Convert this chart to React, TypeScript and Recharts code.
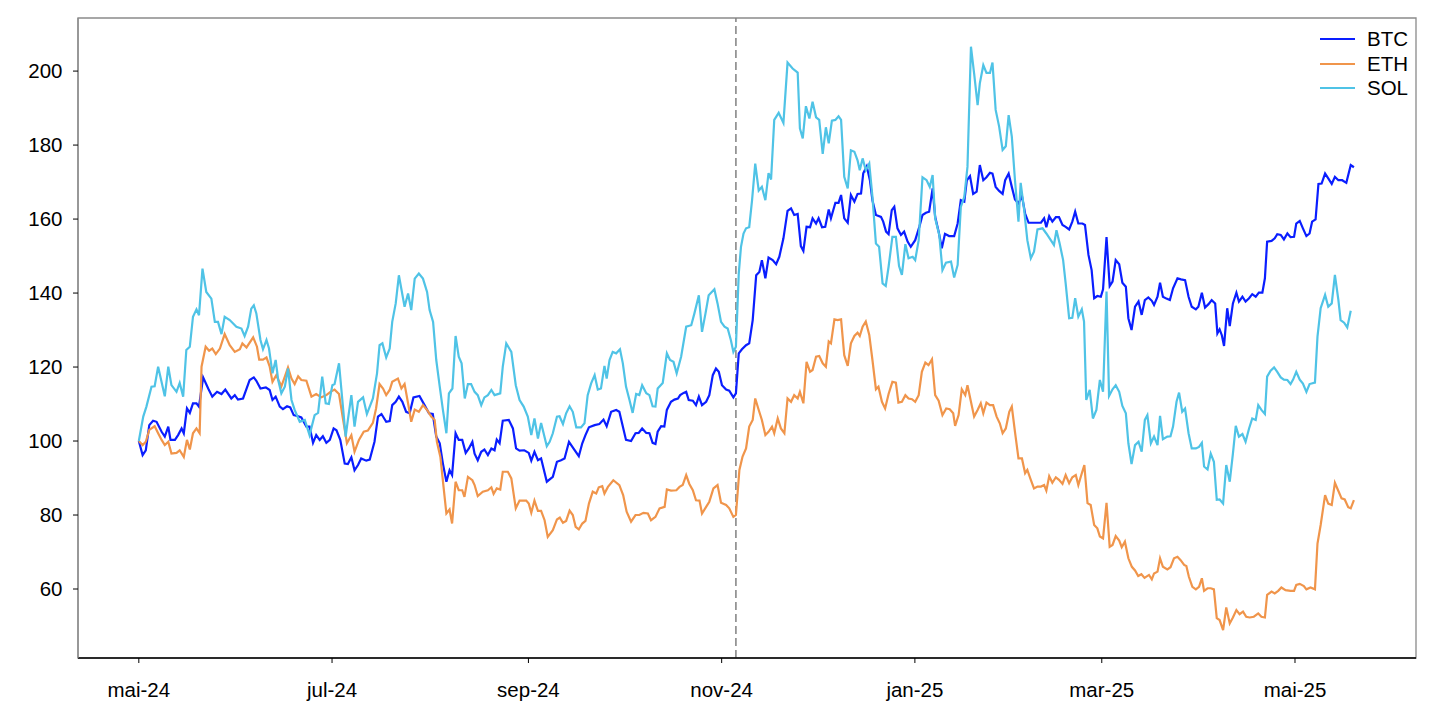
import React from "react";
import {
  LineChart,
  Line,
  XAxis,
  YAxis,
  ReferenceLine,
  ReferenceArea,
  Legend,
} from "recharts";

// Days counted from 1 May 2024; values indexed to 100 at the start.
const TICK_DAYS = [0, 61, 123, 184, 245, 304, 365];
const TICK_LABELS = ["mai-24", "jul-24", "sep-24", "nov-24", "jan-25", "mar-25", "mai-25"];
const Y_TICKS = [60, 80, 100, 120, 140, 160, 180, 200];
const EVENT_DAY = 188.5;

const BTC: [number, number][] = [
  [0, 100], [1.2, 96.2], [2.2, 97.5], [3.3, 104.3], [4.5, 105.5], [5.6, 105.2], [7.2, 102.5], [8.2, 101.2],
  [9.3, 103.9], [10, 100.3], [11.4, 100.3], [12.4, 101.6], [13.5, 103.4], [14.2, 102.1], [15.2, 108.8],
  [16.1, 107.6], [17.1, 110.2], [18.2, 110.2], [19, 109.3], [20.3, 117.2], [21.9, 114.2], [23.2, 112],
  [24.7, 113.3], [26.1, 112.7], [27.3, 113.9], [29.2, 111.5], [30.3, 112.4], [31.3, 111.2], [32.9, 111.5],
  [35, 116.5], [36.3, 117.2], [37.1, 116.3], [38.4, 114.2], [40.1, 114.5], [41.3, 113.8], [42.2, 111.1],
  [43.2, 112], [44.5, 109.3], [45.5, 108.6], [46.8, 109.4], [47.8, 109.1], [48.9, 107], [50.3, 106.7],
  [51.3, 106.4], [52.9, 103.9], [53.9, 103.9], [55, 99.5], [56, 101.6], [57.1, 100.3], [58.1, 101.3],
  [59.2, 99.5], [60.3, 100.3], [61.5, 103.4], [62.4, 102.9], [63.6, 100.3], [65, 93.9], [66, 93.8],
  [67.1, 95.6], [68.1, 92.1], [69.2, 93.5], [70.2, 95.3], [71.8, 94.7], [72.9, 95], [74.4, 99.8],
  [75.5, 106.6], [76.6, 107.3], [78.1, 105.2], [79.2, 105.4], [80, 109.7], [81.1, 110.6], [82.1, 112],
  [83.2, 110.6], [84.4, 107.9], [85.5, 107.5], [86.7, 111.8], [88.6, 112.2], [90.2, 109.7], [91.6, 107.5],
  [92.8, 107.3], [93.9, 101.2], [95, 99.4], [96, 93.9], [97.1, 89], [98.1, 92.1], [98.9, 90.8], [100, 102.1],
  [101, 100.3], [102.1, 100.3], [103.2, 96.8], [104.2, 98], [105.3, 99.8], [106, 96.6], [107, 94.8],
  [108.1, 97.1], [109.1, 97.7], [110.2, 96.2], [111.3, 98], [112.3, 97.5], [113, 100.4], [113.9, 99.4],
  [114.9, 105.5], [116.8, 105.7], [118.1, 103.4], [119.1, 98], [120.2, 97.4], [121.7, 97.5], [123.1, 96.8],
  [123.9, 94.7], [124.9, 97.1], [126, 94.8], [127, 95.3], [128.8, 89], [130.7, 90.3], [132, 94.4],
  [133.3, 94.8], [134.4, 95.3], [135.8, 99.8], [137.2, 98], [138.9, 95.9], [140, 99.4], [141, 101.6],
  [142.1, 103.7], [143.9, 104.3], [145.4, 104.6], [146.7, 105.8], [147.7, 104], [149.1, 107.9],
  [150.7, 108.4], [151.7, 107.9], [152.8, 103.9], [153.8, 100.3], [155.4, 100], [156.8, 102.1],
  [157.8, 102.2], [158.9, 103.4], [160.2, 102.2], [161.2, 102.1], [162.2, 99.5], [163.1, 99.2],
  [163.8, 102.5], [164.9, 104], [165.9, 103.9], [166.7, 108.4], [168, 110.6], [169.1, 111.2],
  [170.2, 111.5], [170.9, 112.4], [172, 113], [172.8, 113.3], [173.6, 111.1], [174.9, 110.9],
  [175.9, 109.7], [176.8, 112], [177.8, 109.7], [179.1, 110.6], [180.1, 112.4], [181.2, 117.8],
  [182.2, 119.6], [183.1, 118.7], [184.1, 115.1], [185.4, 113.9], [186.4, 113.6], [187.7, 111.8],
  [188.5, 112.9], [189.4, 123.7], [190.4, 124.8], [191.7, 125.9], [192.7, 126.4], [193.8, 132.7],
  [194.9, 144.8], [195.9, 145.7], [196.7, 148.9], [197.8, 144], [198.8, 149.6], [200.1, 148.9],
  [201.2, 147.8], [202.2, 149.8], [203.5, 154.8], [204.8, 162.2], [205.9, 162.9], [206.9, 161.1],
  [208, 161.4], [209, 152.7], [209.8, 151.4], [210.8, 157.9], [211.9, 157.8], [212.7, 160.2],
  [213.8, 158.8], [214.6, 160.2], [215.7, 157.8], [216.7, 157.9], [217.8, 162.6], [218.5, 160.2],
  [219.9, 164.4], [220.9, 164.4], [221.7, 166.5], [222.7, 160.2], [223.8, 159], [224.8, 166.5],
  [225.9, 164.7], [226.9, 166.8], [228, 166.9], [228.7, 172.4], [229.8, 174.3], [230.8, 170.5],
  [231.6, 165.1], [232.7, 161.1], [234.3, 160.6], [235, 159.3], [235.9, 156.6], [236.7, 155.9],
  [237.7, 162.4], [238.5, 163.3], [239.5, 157.5], [240.6, 155.7], [241.6, 156.6], [242.7, 153.9],
  [243.7, 152.5], [245.1, 154.3], [246.4, 157.9], [247.4, 161.1], [248.5, 161.7], [249.5, 162],
  [250.6, 168.3], [251.4, 160.6], [252.5, 156.6], [253.5, 152.1], [254.5, 156], [255.8, 155.4],
  [257.4, 155.4], [258.5, 158.8], [259.5, 165.1], [260.6, 164.7], [261.4, 170.5], [262.4, 171.6],
  [263.4, 166.8], [264.5, 167.4], [265.5, 174.6], [266.6, 170.5], [267.6, 171.3], [268.7, 172.5],
  [269.5, 172.3], [270.5, 168.7], [271.6, 167.6], [272.7, 166.8], [273.5, 170.5], [274.6, 172.3],
  [275.6, 168.7], [276.6, 165.3], [277.7, 164.2], [278.8, 166.2], [279.8, 161.5], [280.9, 159],
  [282.1, 159], [283.7, 159], [284.8, 159], [285.8, 160.2], [286.5, 157.8], [287.4, 160.8],
  [288.4, 159.3], [289.5, 160.5], [290.5, 160.5], [291.6, 158.4], [292.6, 157.9], [293.7, 157.2],
  [294.7, 159.3], [295.6, 162], [296.6, 158.8], [297.9, 158.8], [298.7, 158.4], [299.8, 150.3],
  [300.8, 146.2], [301.6, 138.6], [302.6, 139.2], [303.7, 139], [304.4, 141], [305.5, 155.1],
  [306.5, 141.9], [307.4, 143.1], [308.4, 148.9], [309.5, 147.8], [310.5, 142.8], [311.6, 141.7],
  [312.4, 133.2], [313.4, 130], [314.5, 136.3], [315.6, 137.7], [316.6, 134.1], [317.6, 138.1],
  [318.7, 138.8], [319.8, 137.9], [320.5, 136.8], [321.6, 139], [322.4, 142.8], [323.3, 139],
  [324.4, 138.5], [325.5, 138.1], [326.5, 141.3], [327.9, 144], [329, 143.7], [330.3, 143.5],
  [331.4, 139], [332.4, 136.3], [333.7, 135.6], [334.5, 136.3], [335.6, 140.1], [336.6, 136.1],
  [337.7, 137], [338.7, 138.1], [339.8, 137.2], [340.5, 129.1], [341.2, 130.2], [341.9, 128.6],
  [342.6, 125.7], [343.6, 135.9], [344.4, 131.1], [345.4, 137.2], [346.5, 140.1], [347.3, 137.7],
  [348.4, 139], [349.4, 137.7], [350.5, 138.6], [351.5, 139.7], [352.6, 139], [353.6, 140.1],
  [354.7, 140.1], [355.5, 144], [356.2, 153.9], [357.6, 154.1], [358.6, 154.8], [359.4, 155.9],
  [360.5, 155.7], [361.5, 154.5], [362.6, 156.1], [363.6, 155.1], [364.7, 155.2], [365.4, 158.8],
  [366.5, 159.5], [367.5, 157.5], [368.6, 155.4], [369.6, 156.1], [370.4, 159.3], [371.5, 159.9],
  [372.4, 169.5], [373.4, 169.6], [374.5, 172.3], [375.5, 171], [376.6, 169.5], [377.6, 171.4],
  [378.7, 170.5], [379.9, 170.5], [381.2, 169.8], [382.6, 174.6], [383.6, 174],
];

const ETH: [number, number][] = [
  [0, 100], [1.2, 98.9], [2.2, 99.8], [3.3, 103], [5, 104], [6.1, 102.1], [7.2, 100.3], [8.2, 98.9],
  [9.3, 99.8], [10.3, 96.6], [11.9, 96.8], [12.9, 97.5], [14.2, 95.7], [15.2, 100.3], [16.1, 97.7],
  [17.1, 102.1], [18.2, 103.4], [19.2, 102.1], [19.8, 120.1], [21.1, 125.5], [22.2, 124.4], [23.2, 125],
  [24.3, 123.5], [25.6, 125], [27.1, 128.9], [28.7, 125.9], [30.3, 124.1], [31.9, 124.8], [32.7, 126.4],
  [34, 125.3], [36.1, 128], [37.3, 125.5], [38, 122], [39.2, 122], [40.3, 122.6], [41.3, 120.2],
  [42.2, 116], [43.4, 117.8], [45, 114.8], [46.1, 117.4], [47.1, 119.9], [48.2, 116.9], [49.2, 115.4],
  [50.3, 117.5], [51.3, 116.5], [52.9, 116.3], [54.5, 112], [56, 112.7], [57.6, 111.8], [59.2, 112.4],
  [60.5, 113.3], [61.8, 113.9], [63.2, 112.7], [64.5, 105.7], [65.7, 99.4], [67.1, 101.6], [68.1, 97.1],
  [69.5, 100.3], [71, 102.5], [72.3, 102.8], [73.9, 104.9], [74.9, 108.8], [76, 115.4], [77.1, 114.2],
  [78.1, 112.4], [79.2, 113.8], [80, 116], [81.8, 116.9], [82.9, 114.2], [83.9, 115.4], [85, 110.2],
  [86, 105.2], [87.1, 108.5], [88.4, 107.9], [89.7, 109.7], [91, 108.4], [92.3, 106.6], [93.4, 105.7],
  [94.1, 99.8], [95.2, 95.7], [96.2, 87.6], [97.1, 80.4], [98.1, 81.5], [98.9, 77.7], [100, 89],
  [101, 86.7], [102.1, 86.7], [102.8, 84.9], [103.9, 90.3], [105.3, 89.4], [106, 88.1], [107, 85.1],
  [108.6, 86.3], [110.2, 86.7], [111.3, 87.5], [112, 85.7], [113, 87.2], [114.1, 86.9], [114.9, 91.7],
  [116.5, 91.7], [117.6, 89.9], [119, 81.8], [120.2, 83.9], [122.3, 83.9], [123.1, 83.1], [123.9, 80.6],
  [124.9, 83.9], [126, 81.1], [127, 81.1], [128.1, 78.6], [129.1, 74.1], [130.7, 75.9], [132, 78.8],
  [132.9, 79.3], [133.9, 77.9], [134.9, 78.4], [136, 81.2], [137, 80], [137.9, 76.8], [138.9, 76.1],
  [140, 77.7], [141, 78.4], [142.1, 83.1], [143.3, 86.3], [144.4, 85.8], [145.2, 87.5], [146.3, 87.8],
  [147, 85.8], [148.1, 87.6], [149.8, 89.4], [151.7, 88.1], [152.9, 85.4], [154, 80.9], [155.4, 78.2],
  [156.8, 80], [158, 80], [159.3, 80.6], [160.7, 80.4], [161.7, 78.6], [163.1, 79.5], [164.4, 81.8],
  [166, 82.2], [166.7, 86.9], [168, 86.6], [169.7, 86.7], [170.7, 87.6], [171.7, 88.1], [172.8, 90.8],
  [173.8, 88.4], [174.9, 86.7], [175.9, 84], [177, 83.9], [177.8, 80.4], [179.1, 82.2], [180.1, 83.6],
  [181.4, 87.2], [182.7, 88.1], [183.8, 83.3], [185.4, 82.7], [186.4, 81.8], [187.7, 79.5], [188.5, 80],
  [189.6, 92.2], [190.6, 95.8], [191.7, 98], [192.7, 103.9], [193.8, 105.7], [194.6, 111.5],
  [195.7, 108.4], [196.7, 105.7], [197.8, 101.6], [198.8, 102.5], [199.9, 103.9], [200.6, 102.1],
  [201.7, 106.1], [202.7, 103.4], [203.8, 102.1], [204.8, 111.5], [205.9, 110.6], [206.9, 112.4],
  [208, 111.5], [208.7, 113.3], [209.8, 110.2], [210.8, 121.4], [211.9, 118.7], [212.7, 119.2],
  [213.8, 122.8], [214.8, 123], [215.9, 121], [216.9, 120.1], [217.8, 126.9], [218.5, 126.4],
  [219.6, 132.9], [220.6, 132.7], [221.7, 132.9], [222.7, 123.2], [223.8, 120.3], [224.8, 126.4],
  [225.9, 128.4], [226.9, 129.3], [227.6, 128.4], [228.5, 130.9], [229.5, 132.3], [230.6, 128.7],
  [231.6, 121.9], [232.7, 114], [233.5, 114.7], [234.6, 110.6], [235.6, 108.8], [236.7, 112.7],
  [237.9, 116], [239, 115.8], [239.8, 110.4], [240.9, 110.6], [242, 112.4], [243, 111.5], [244.1, 111.3],
  [245.1, 110.6], [246.2, 112.4], [247.2, 118.7], [248.3, 121.2], [249.3, 120.5], [250.4, 122.1],
  [251.4, 112.4], [252.5, 110.9], [253.7, 107], [254.9, 108.8], [256, 108.6], [257.1, 107.5],
  [257.7, 104.1], [258.8, 107], [259.8, 114], [260.9, 112.4], [261.6, 115.1], [262.7, 110.6],
  [263.7, 106.6], [264.8, 108.4], [265.8, 110.2], [266.6, 107.5], [267.6, 110.4], [268.7, 109.7],
  [269.7, 109.7], [270.8, 106.6], [271.8, 104.8], [272.7, 102.1], [273.7, 103.4], [274.8, 107.9],
  [275.6, 109.3], [276.6, 102.5], [277.7, 95.3], [278.8, 95.3], [279.8, 91.3], [280.5, 92.2],
  [281.6, 89.5], [282.6, 87.2], [283.7, 87.7], [284.8, 87.7], [285.8, 88.1], [286.5, 86.6],
  [287.4, 90.5], [288.4, 88.7], [289.5, 90.2], [290.5, 89.5], [291.6, 88.4], [292.6, 90.8],
  [293.7, 88.6], [294.7, 90.2], [295.8, 90.8], [296.6, 88.1], [297.7, 91.3], [298.5, 93.5],
  [299.5, 83.2], [300.5, 82.7], [301.6, 77.3], [302.6, 76.4], [303.4, 74.2], [304.4, 73.7],
  [305.5, 83.3], [306.5, 71.4], [307.4, 71.9], [308.4, 74.3], [309.5, 73.1], [310.3, 71.3],
  [311.3, 72.8], [312.4, 68.3], [313.5, 66], [314.5, 65], [315.5, 63.5], [316.5, 64], [317.5, 63],
  [318.9, 63.8], [319.8, 62.6], [320.5, 64.2], [321.6, 64.7], [322.4, 68.3], [323.3, 66], [324.7, 65.3],
  [325.7, 65.9], [326.8, 68.3], [327.9, 68.7], [328.9, 67.8], [330, 66.5], [330.7, 66.2], [331.5, 63.3],
  [332.6, 60.6], [333.7, 59.9], [334.7, 60.6], [335.6, 62.9], [336.3, 59.5], [337.4, 60.2],
  [338.4, 60.2], [339.4, 59.9], [340.3, 52.1], [341.2, 51.6], [342.3, 48.9], [343.3, 55], [344.4, 50.7],
  [345.4, 52.3], [346.5, 54.3], [347.5, 53.2], [348.6, 53.9], [349.6, 52.5], [350.7, 52.3], [352, 52.5],
  [353.4, 53.4], [354.4, 52.5], [355.5, 52.3], [356.2, 58.4], [357.6, 59.3], [358.6, 58.8],
  [359.7, 59.5], [360.7, 60.4], [362, 59.7], [363.6, 59.5], [364.7, 59.5], [365.4, 61.1], [366.5, 61.4],
  [367.8, 60.8], [368.6, 59.9], [369.9, 60.4], [371.3, 59.9], [372.1, 72.3], [373.1, 77.3],
  [374.5, 85.4], [375.5, 83.1], [376.6, 82.7], [377.6, 88.7], [378.7, 86.5], [379.7, 84.5],
  [380.7, 84.2], [381.8, 82.1], [382.6, 81.8], [383.6, 84],
];

const SOL: [number, number][] = [
  [0, 100], [1.4, 106.6], [2.4, 109.3], [4, 114.7], [5, 114.8], [6.1, 120.1], [8.2, 112.1], [9.3, 120.1],
  [10.3, 115.1], [11.9, 113.3], [12.9, 115.7], [14, 112], [15, 124.6], [16.1, 125.5], [17.1, 133.6],
  [18.2, 135.6], [19, 134], [20.1, 146.6], [21.3, 140.3], [22.9, 138.5], [24, 132.2], [25, 132.2],
  [26.1, 128.9], [27.1, 133.6], [28.7, 132.7], [30.8, 130.9], [32.4, 130.4], [33.4, 128.4], [34.5, 130.9],
  [35.5, 135.8], [36.3, 136.7], [37.1, 134.5], [38.4, 127.3], [39.2, 124.8], [40.3, 127.3], [41.1, 125],
  [42.2, 118.3], [43.2, 121.9], [44, 116.5], [45, 112.9], [46.1, 114.7], [47.1, 119.6], [48.2, 111.1],
  [49.2, 108.4], [50.8, 105.2], [52.4, 105.7], [53.9, 101.6], [55.5, 107], [56.6, 107.6], [57.9, 117.4],
  [59, 110.2], [60, 110], [61.1, 115.1], [61.8, 115.4], [63.2, 121], [65.3, 101.2], [66, 105.7],
  [67.1, 112.4], [68.1, 103.9], [69.2, 110.6], [70.8, 111.8], [72, 107.3], [73.9, 111.5], [75.2, 118.3],
  [76, 125.9], [76.9, 126.4], [78.1, 122.6], [79.2, 125], [80, 132.2], [81.1, 137.2], [82.1, 144.8],
  [83.9, 136.3], [85, 139.9], [86, 135.4], [87.1, 143.9], [88.4, 145.3], [89.7, 143.9], [91, 140.3],
  [91.8, 135.4], [92.9, 132.2], [93.9, 121.9], [95, 114.7], [96, 108.4], [97.1, 102.1], [97.9, 112.9],
  [99, 114.2], [100, 128.4], [101, 122.8], [101.9, 121], [102.9, 111.5], [103.9, 115.4], [104.9, 115.4],
  [106, 113.3], [107, 112.4], [108.1, 109.7], [109.1, 111.8], [110.2, 112.4], [111.3, 113.8],
  [112.3, 112.4], [114.1, 112.9], [114.9, 120.1], [116, 126.4], [117.6, 124.1], [119, 115.1],
  [120.2, 111.1], [121.5, 109.3], [122.8, 106.6], [123.9, 101.6], [124.9, 106.1], [126, 100.7],
  [127, 104.9], [128.8, 98.6], [129.7, 99.8], [130.7, 102.1], [132, 106.6], [132.8, 106.7],
  [133.9, 104.6], [134.9, 107.5], [136, 109.4], [137, 107.9], [138.1, 103.7], [139.6, 103.7],
  [140.7, 104.8], [141.7, 112.4], [142.8, 115.6], [143.9, 117.8], [144.9, 113.9], [145.9, 114.2],
  [147, 120.3], [147.7, 116.9], [148.6, 121.9], [149.6, 124.1], [150.7, 123.7], [151.9, 124.8],
  [152.8, 121], [153.8, 114.7], [154.9, 111.1], [155.9, 107.6], [157, 112.7], [158, 112.4],
  [158.9, 115.1], [160.2, 112.9], [161.2, 112.4], [162.2, 109.4], [163.1, 109.3], [163.8, 114.2],
  [165.4, 115.7], [166.7, 123.7], [167.7, 121.9], [168.8, 121.4], [169.8, 118.3], [171.2, 122.8],
  [172.8, 130.9], [174.4, 131.3], [175.4, 134.5], [176.8, 139.4], [177.8, 129.5], [178.9, 134.5],
  [179.9, 139.4], [181.7, 141], [182.7, 137.2], [183.8, 132.2], [184.9, 130.9], [185.9, 130.4],
  [186.9, 127.3], [187.7, 124.1], [188.5, 125.5], [189.4, 145.3], [190.1, 152.5], [190.9, 156.1],
  [191.7, 157.5], [192.7, 157.8], [193.6, 165.1], [194.6, 175], [195.7, 167.7], [196.7, 168.7],
  [197.8, 165.1], [198.8, 172.4], [199.6, 170.7], [200.6, 186.8], [202, 188.7], [203.5, 186],
  [204.8, 202.3], [206.4, 200.7], [208, 199.6], [208.7, 184.5], [209.6, 181.8], [210.6, 190.5],
  [211.7, 187.2], [212.7, 191.7], [213.8, 187.5], [214.8, 186.8], [215.9, 177.6], [216.9, 184.8],
  [217.8, 180.5], [218.8, 186.6], [219.9, 186.8], [220.9, 187.8], [221.7, 186.8], [222.7, 171.4],
  [223.8, 168.3], [224.8, 178.6], [225.9, 178.2], [226.9, 175.9], [227.6, 173.2], [228.5, 176.4],
  [229.5, 173.2], [230.6, 175], [231.6, 166], [232.7, 153.4], [233.7, 152.5], [234.8, 142.6],
  [235.8, 141.9], [236.7, 147.1], [237.9, 155.2], [239, 155.2], [240, 147.3], [240.9, 144.9],
  [242, 153.2], [243, 149.4], [244.3, 149.8], [245.1, 148.9], [246.2, 154.3], [247.4, 171.3],
  [248.7, 170.5], [249.7, 168.7], [250.6, 171.9], [251.4, 160.2], [252.7, 155.7], [253.7, 146.2],
  [254.8, 148.2], [256.4, 148.5], [257.4, 144.2], [258.5, 147.6], [259.5, 163.3], [260.6, 166],
  [261.6, 174.1], [262.7, 206.6], [263.7, 199.4], [264.8, 190.8], [265.5, 196.7], [266.6, 201.6],
  [267.6, 199.5], [268.7, 199.5], [269.5, 202.3], [270.5, 189.5], [271.6, 185], [272.7, 178.7],
  [273.7, 179.7], [274.6, 188.1], [275.6, 182.3], [276.6, 170.5], [277.7, 159.3], [278.4, 169.8],
  [279.5, 162.4], [280.5, 154.3], [281.6, 149.4], [282.6, 151.2], [283.7, 157.2], [285.3, 157.5],
  [286.5, 156.1], [287.9, 154.3], [288.9, 153], [289.7, 157], [290.7, 153.4], [291.8, 148.9],
  [292.6, 142.6], [293.7, 133.2], [294.7, 133.3], [295.6, 138.6], [296.6, 133.6], [297.7, 135.6],
  [298.4, 132.3], [299.1, 111.1], [300.2, 113.8], [301.2, 106.1], [302.3, 108.4], [303.4, 116.5],
  [304.4, 113.3], [305.5, 140.4], [306.3, 112.2], [307.4, 114], [308.4, 115.1], [309.5, 113.3],
  [310.5, 109.5], [311.6, 107.5], [312.4, 99.4], [313.4, 93.8], [314.5, 98.9], [315.6, 99.8],
  [316.6, 97.1], [317.6, 105.7], [318.4, 107], [319.5, 99.4], [320.5, 101.2], [321.6, 98.9],
  [322.4, 106.8], [323.3, 100.5], [324.7, 101.2], [325.7, 101.3], [326.5, 103.9], [327.6, 110.6],
  [328.4, 113.1], [329.4, 107.9], [330.3, 108.8], [331.4, 102.1], [332.4, 98], [333.7, 98], [334.7, 98.4],
  [335.6, 99.5], [336.3, 93.1], [337.4, 92.3], [338.4, 96.6], [339.4, 94.4], [340.3, 84.1], [341.2, 84.2],
  [342.3, 83.1], [343.3, 93.5], [344.4, 89], [345.4, 96.6], [346.3, 104.1], [347.3, 101.2], [348.4, 101.9],
  [349.4, 99.8], [350.5, 103.4], [351.5, 106.1], [352.6, 105.7], [353.4, 109.7], [354.4, 108.4],
  [355.5, 107.3], [356.2, 117.4], [357.3, 119], [358.4, 119.9], [359.4, 118.7], [360.5, 117.2],
  [361.5, 116.6], [362.6, 116.5], [363.6, 115.4], [364.4, 116.6], [365.4, 118.7], [366.5, 116.6],
  [367.5, 115.5], [368.6, 113.3], [369.6, 115.4], [371.3, 115.8], [372.1, 128.2], [373.1, 135.9],
  [374.5, 139.5], [375.5, 136.3], [376.6, 137.2], [377.6, 144.9], [378.7, 138.1], [379.4, 132.7],
  [380.5, 132], [381.5, 130.7], [382.6, 135.2],
];

const SERIES = [
  { name: "BTC", color: "#0A1EFF", points: BTC },
  { name: "ETH", color: "#F0954B", points: ETH },
  { name: "SOL", color: "#4FC3E6", points: SOL },
];

const X_DOMAIN: [number, number] = [-19.2, 403.2];
const Y_DOMAIN: [number, number] = [41.35, 214.35];

const FONT = "'Liberation Sans', Arial, sans-serif";
const FONT_SIZE = 20.5;

const LegendBox = () => (
  <div style={{ fontFamily: FONT, fontSize: FONT_SIZE, color: "#000" }}>
    {SERIES.map((s) => (
      <div key={s.name} style={{ display: "flex", alignItems: "center", height: 24.5 }}>
        <svg width={35} height={4} style={{ display: "block" }}>
          <line x1={0} y1={2} x2={35} y2={2} stroke={s.color} strokeWidth={2.2} />
        </svg>
        <span style={{ marginLeft: 12, lineHeight: "20px" }}>{s.name}</span>
      </div>
    ))}
  </div>
);

export default function App() {
  return (
    <div style={{ position: "fixed", left: 0, top: 0, width: 1445, height: 710, background: "#fff", fontFamily: FONT }}>
      <LineChart width={1445} height={710} margin={{ top: 18, right: 29, bottom: 22, left: 28 }}>
        <ReferenceArea
          x1={X_DOMAIN[0]}
          x2={X_DOMAIN[1]}
          y1={Y_DOMAIN[0]}
          y2={Y_DOMAIN[1]}
          fill="none"
          stroke="#8a8a8a"
          strokeWidth={1.3}
          fillOpacity={0}
        />
        <XAxis
          dataKey="d"
          type="number"
          domain={X_DOMAIN}
          allowDataOverflow
          ticks={TICK_DAYS}
          tickFormatter={(v: number) => TICK_LABELS[TICK_DAYS.indexOf(v)] ?? ""}
          height={30}
          tickSize={5}
          tickMargin={19}
          axisLine={{ stroke: "#000", strokeWidth: 1.3 }}
          tickLine={{ stroke: "#000", strokeWidth: 1 }}
          tick={{ fill: "#000", fontSize: FONT_SIZE, fontFamily: FONT }}
          interval={0}
        />
        <YAxis
          type="number"
          domain={Y_DOMAIN}
          allowDataOverflow
          ticks={Y_TICKS}
          width={50}
          tickSize={5}
          tickMargin={10.5}
          axisLine={{ stroke: "#8a8a8a", strokeWidth: 1.3 }}
          tickLine={{ stroke: "#000", strokeWidth: 1 }}
          tick={{ fill: "#000", fontSize: FONT_SIZE, fontFamily: FONT }}
          interval={0}
        />
        <ReferenceLine x={EVENT_DAY} stroke="#808080" strokeWidth={1.5} strokeDasharray="8 4" />
        {SERIES.map((s) => (
          <Line
            key={s.name}
            name={s.name}
            data={s.points.map(([d, v]) => ({ d, v }))}
            dataKey="v"
            type="linear"
            stroke={s.color}
            strokeWidth={2.2}
            dot={false}
            activeDot={false}
            isAnimationActive={false}
          />
        ))}
        <Legend
          layout="horizontal"
          verticalAlign="middle"
          align="center"
          content={() => <LegendBox />}
          wrapperStyle={{ position: "absolute", top: 27, left: 1320, width: 100, height: 75 }}
        />
      </LineChart>
    </div>
  );
}
